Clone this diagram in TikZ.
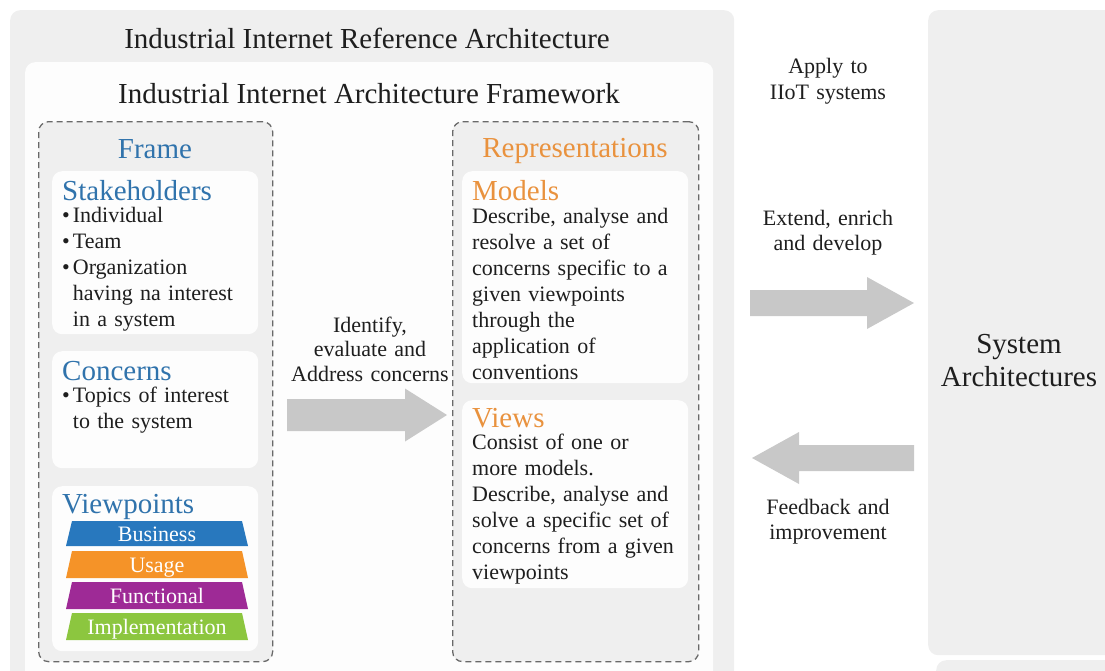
\documentclass[tikz,border=0pt]{standalone}
\usepackage{fontspec}
\setmainfont{Liberation Serif}
\usetikzlibrary{calc}

\definecolor{panelgray}{RGB}{239,239,239}
\definecolor{cardwhite}{RGB}{253,253,253}
\definecolor{dashgray}{RGB}{105,105,105}
\definecolor{arrowgray}{RGB}{200,200,200}
\definecolor{inkblack}{RGB}{30,30,30}
\definecolor{frameblue}{RGB}{48,115,172}
\definecolor{reporange}{RGB}{233,146,62}
\definecolor{vpblue}{RGB}{40,120,190}
\definecolor{vporange}{RGB}{245,147,40}
\definecolor{vppurple}{RGB}{158,42,150}
\definecolor{vpgreen}{RGB}{140,198,63}

% wide block arrow: #1 tail, #2 tip, #3 half shaft width, #4 half head width, #5 head length
\newcommand\blockarrow[5]{%
  \fill[arrowgray] let \p1=#1, \p2=#2, \p3=($#2!#5!#1$) in
    (\x1,\y1+#3) -- (\x3,\y1+#3) -- (\x3,\y1+#4) -- (\x2,\y2)
    -- (\x3,\y1-#4) -- (\x3,\y1-#3) -- (\x1,\y1-#3) -- cycle;}

% one layer of the viewpoint stack: top y, bottom y, colour, node name, text
\newcommand\vplayer[5]{%
  \fill[#3] (72,#1) -- (242,#1) -- (248,#2) -- (66,#2) -- cycle;
  \node[vptext] (#4) at (157,{(#1+#2)/2+7.5}) {#5};}

\tikzset{
  panel/.style={fill=panelgray, draw=none, rounded corners=10pt, inner sep=0pt, anchor=north west},
  card/.style={fill=cardwhite, draw=none, rounded corners=10pt, inner sep=0pt, anchor=north west},
  dashbox/.style={fill=panelgray, draw=dashgray, line width=1.3pt, dash pattern=on 6pt off 4pt,
    rounded corners=10pt, inner sep=0pt, anchor=north west},
  titletext/.style={font=\fontsize{29}{33}\selectfont, text=inkblack, inner sep=0pt, anchor=base},
  headtext/.style={font=\fontsize{29}{33}\selectfont, inner sep=0pt, anchor=base west},
  bodytext/.style={font=\fontsize{22}{26}\selectfont, text=inkblack, inner sep=0pt, anchor=base west,
    align=left, text width=215pt},
  midlabel/.style={font=\fontsize{22}{25}\selectfont, text=inkblack, inner sep=0pt, anchor=base,
    align=center, text width=190pt},
  vptext/.style={font=\fontsize{22}{24}\selectfont, text=white, inner sep=0pt, anchor=base},
}
\newcommand\bul{\textbullet\hspace{3pt}}
\newcommand\nobul{\hphantom{\textbullet\hspace{3pt}}}

\begin{document}
\begin{tikzpicture}[x=1pt,y=-1pt]
\useasboundingbox (0,0) rectangle (1105,670);
\clip (0,0) rectangle (1105,670);

% reference architecture panel and framework card
\node[panel, minimum width=724pt, minimum height=700pt] (ira) at (10,10) {};
\node[titletext] (iraT) at (367,48) {Industrial Internet Reference Architecture};
\node[card, minimum width=688pt, minimum height=650pt] (iaf) at (25,62) {};
\node[titletext] (iafT) at (369,103) {Industrial Internet Architecture Framework};

% system architectures panel
\node[panel, minimum width=220pt, minimum height=645pt] (sys) at (928,10) {};
\node[panel, minimum width=220pt, minimum height=60pt] (sysb) at (936,660) {};
\node[titletext, text width=200pt, align=center] (sysT) at (1019,353) {System\\[0pt]Architectures};

% frame column
\node[dashbox, minimum width=234pt, minimum height=540pt] (frame) at (38,121) {};
\node[headtext, text=frameblue, anchor=base] (frameT) at (155,158) {Frame};

\node[card, minimum width=206pt, minimum height=163pt] (stake) at (52,171) {};
\node[headtext, text=frameblue] (stakeT) at (62,200) {Stakeholders};
\node[bodytext] (stakeB) at (62,222) {\bul Individual\\ \bul Team\\ \bul Organization\\
  \nobul having na interest\\ \nobul in a system};

\node[card, minimum width=206pt, minimum height=117pt] (conc) at (52,351) {};
\node[headtext, text=frameblue] (concT) at (62,380) {Concerns};
\node[bodytext] (concB) at (62,402) {\bul Topics of interest\\ \nobul to the system};

\node[card, minimum width=206pt, minimum height=165pt] (vpt) at (52,486) {};
\node[headtext, text=frameblue] (vptT) at (62,513) {Viewpoints};
\vplayer{521}{546}{vpblue}{vpbus}{Business}
\vplayer{551}{578}{vporange}{vpuse}{Usage}
\vplayer{582}{609}{vppurple}{vpfun}{Functional}
\vplayer{613}{640}{vpgreen}{vpimp}{Implementation}

% representations column
\node[dashbox, minimum width=246pt, minimum height=540pt] (repr) at (452,121) {};
\node[headtext, text=reporange, anchor=base] (reprT) at (575,157) {Representations};

\node[card, minimum width=226pt, minimum height=212pt] (models) at (462,171) {};
\node[headtext, text=reporange] (modelsT) at (472,200) {Models};
\node[bodytext] (modelsB) at (472,223) {Describe, analyse and\\ resolve a set of\\
  concerns specific to a\\ given viewpoints\\ through the\\ application of\\ conventions};

\node[card, minimum width=226pt, minimum height=188pt] (views) at (462,400) {};
\node[headtext, text=reporange] (viewsT) at (472,427) {Views};
\node[bodytext] (viewsB) at (472,449) {Consist of one or\\ more models.\\
  Describe, analyse and\\ solve a specific set of\\ concerns from a given\\ viewpoints};

% frame -> representations
\node[midlabel, font=\fontsize{22}{24.5}\selectfont] (idL) at (370,332) {Identify,\\ evaluate and\\ Address concerns};
\coordinate (idTail) at (287,415);
\coordinate (idTip) at (447,415);
\blockarrow{(idTail)}{(idTip)}{16pt}{26.5pt}{42pt}

% framework <-> system architectures
\node[midlabel, font=\fontsize{22}{26}\selectfont] (applyL) at (828,73) {Apply to\\ IIoT systems};
\node[midlabel] (extL) at (828,225) {Extend, enrich\\ and develop};
\coordinate (extTail) at (750,303);
\coordinate (extTip) at (914,303);
\blockarrow{(extTail)}{(extTip)}{13pt}{26pt}{47pt}

\coordinate (fbTail) at (914,458);
\coordinate (fbTip) at (752,458);
\blockarrow{(fbTail)}{(fbTip)}{13pt}{26pt}{47pt}
\node[midlabel] (fbL) at (828,514) {Feedback and\\ improvement};
\end{tikzpicture}
\end{document}
